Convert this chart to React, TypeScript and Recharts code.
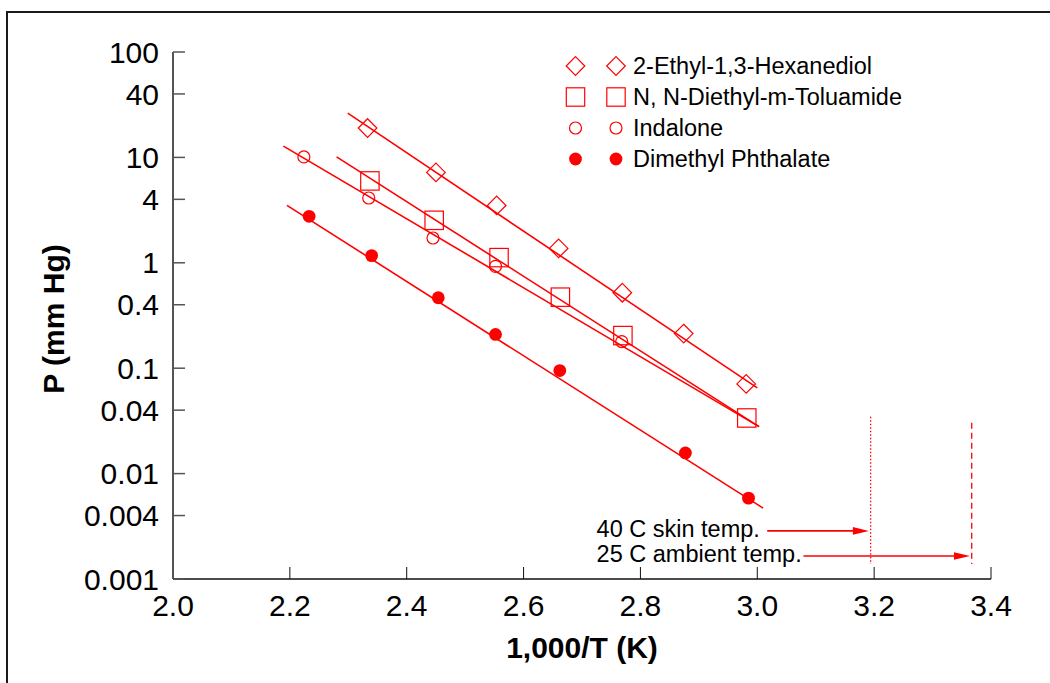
import React from "react";
import {
  ScatterChart,
  Scatter,
  XAxis,
  YAxis,
  ReferenceLine,
  ReferenceDot,
} from "recharts";

const FONT = '"Liberation Sans", Arial, Helvetica, sans-serif';
const RED = "#ff0000";

// measured points, 1000/T vs vapour pressure (mm Hg)
const hexanediolX = [2.333, 2.45, 2.554, 2.66, 2.769, 2.874, 2.981];
const hexanediolP = [19.0, 7.2, 3.5, 1.37, 0.52, 0.213, 0.071];
const deetX = [2.337, 2.447, 2.558, 2.663, 2.77, 2.982];
const deetP = [5.98, 2.53, 1.12, 0.472, 0.204, 0.0337];
const indaloneX = [2.224, 2.335, 2.445, 2.552, 2.768];
const indaloneP = [10.1, 4.12, 1.72, 0.925, 0.179];
const phthalateX = [2.233, 2.34, 2.454, 2.552, 2.662, 2.877, 2.985];
const phthalateP = [2.76, 1.17, 0.466, 0.209, 0.095, 0.0157, 0.00585];

// fitted lines, end points
const hexanediolFitX = [2.299, 3.0];
const hexanediolFitP = [26.3, 0.065];
const deetFitX = [2.28, 3.003];
const deetFitP = [10.1, 0.0279];
const indaloneFitX = [2.189, 3.003];
const indaloneFitP = [12.8, 0.0279];
const phthalateFitX = [2.195, 3.01];
const phthalateFitP = [3.51, 0.0047];

// temperature markers
const markerLabels = ["40 C skin temp.", "25 C ambient temp."];
const markerX = [3.194, 3.367];
const markerTopP = [0.0347, 0.0304];
const markerBottomP = 0.00139;
const arrowStartX = [3.017, 3.079];
const arrowP = [0.00286, 0.001655];
const labelX = 2.725;

const xTicks = [2.0, 2.2, 2.4, 2.6, 2.8, 3.0, 3.2, 3.4];
const yTicks = [0.001, 0.004, 0.01, 0.04, 0.1, 0.4, 1, 4, 10, 40, 100];

const legendNames = [
  "2-Ethyl-1,3-Hexanediol",
  "N, N-Diethyl-m-Toluamide",
  "Indalone",
  "Dimethyl Phthalate",
];

const toPoints = (xs: number[], ys: number[]) =>
  xs.map((x, i) => ({ x, y: ys[i] }));

type Kind = "diamond" | "square" | "circle" | "dot";

function Marker({ kind, cx, cy, s = 1 }: { kind: Kind; cx: number; cy: number; s?: number }) {
  if (kind === "diamond") {
    const r = 9.3 * s;
    return (
      <polygon
        points={`${cx},${cy - r} ${cx + r},${cy} ${cx},${cy + r} ${cx - r},${cy}`}
        fill="none"
        stroke={RED}
        strokeWidth={1.2}
      />
    );
  }
  if (kind === "square") {
    const h = 9.2 * s;
    return (
      <rect x={cx - h} y={cy - h} width={2 * h} height={2 * h} fill="none" stroke={RED} strokeWidth={1.2} />
    );
  }
  if (kind === "circle") {
    return <circle cx={cx} cy={cy} r={6 * s} fill="none" stroke={RED} strokeWidth={1.2} />;
  }
  return <circle cx={cx} cy={cy} r={6.4 * s} fill={RED} stroke="none" />;
}

const shapeOf = (kind: Kind) => (p: any) =>
  p.cx == null ? <g /> : <Marker kind={kind} cx={p.cx} cy={p.cy} />;

const noShape = () => <g />;

const fitLine = { stroke: RED, strokeWidth: 1.6 };

function Arrow(p: any) {
  const { x1, y1, x2 } = p;
  return (
    <g>
      <line x1={x1} y1={y1} x2={x2 - 14} y2={y1} stroke={RED} strokeWidth={1.6} />
      <polygon points={`${x2},${y1} ${x2 - 16},${y1 - 3.8} ${x2 - 16},${y1 + 3.8}`} fill={RED} />
    </g>
  );
}

const kinds: Kind[] = ["diamond", "square", "circle", "dot"];

export default function App() {
  return (
    <div style={{ position: "absolute", left: 0, top: 0, width: 1050, height: 683, background: "#fff" }}>
      <div
        style={{
          position: "absolute",
          left: 6,
          top: 11,
          width: 1044,
          height: 672,
          boxSizing: "border-box",
          borderTop: "2px solid #1a1a1a",
          borderLeft: "2px solid #1a1a1a",
        }}
      />
      <ScatterChart width={1050} height={683} margin={{ top: 52, right: 59, bottom: 46, left: 73 }}>
        <XAxis
          type="number"
          dataKey="x"
          domain={[2, 3.4]}
          ticks={xTicks}
          interval={0}
          allowDataOverflow
          height={58}
          tickSize={-12}
          tickMargin={28}
          tickFormatter={(v: number) => v.toFixed(1)}
          axisLine={{ stroke: "#111", strokeWidth: 1.5 }}
          tickLine={{ stroke: "#111", strokeWidth: 1 }}
          tick={{ fontSize: 30, fill: "#000", fontFamily: FONT }}
          label={{
            value: "1,000/T (K)",
            position: "bottom",
            offset: 0,
            fontSize: 30,
            fontWeight: "bold",
            fill: "#000",
            fontFamily: FONT,
          }}
        />
        <YAxis
          type="number"
          dataKey="y"
          scale="log"
          domain={[0.001, 100]}
          ticks={yTicks}
          interval={0}
          allowDataOverflow
          width={100}
          tickSize={-12}
          tickMargin={26}
          tickFormatter={(v: number) => String(v)}
          axisLine={{ stroke: "#555", strokeWidth: 2 }}
          tickLine={{ stroke: "#555", strokeWidth: 1.5 }}
          tick={{ fontSize: 30, fill: "#000", fontFamily: FONT }}
          label={{
            content: () => (
              <text
                x={53}
                y={319}
                transform="rotate(-90, 53, 319)"
                textAnchor="middle"
                dominantBaseline="central"
                fontSize={30}
                fontWeight="bold"
                fontFamily={FONT}
                fill="#000"
              >
                P (mm Hg)
              </text>
            ),
          }}
        />

        <Scatter data={toPoints(hexanediolFitX, hexanediolFitP)} line={fitLine} shape={noShape} isAnimationActive={false} />
        <Scatter data={toPoints(deetFitX, deetFitP)} line={fitLine} shape={noShape} isAnimationActive={false} />
        <Scatter data={toPoints(indaloneFitX, indaloneFitP)} line={fitLine} shape={noShape} isAnimationActive={false} />
        <Scatter data={toPoints(phthalateFitX, phthalateFitP)} line={fitLine} shape={noShape} isAnimationActive={false} />

        <Scatter name={legendNames[0]} data={toPoints(hexanediolX, hexanediolP)} shape={shapeOf("diamond")} isAnimationActive={false} />
        <Scatter name={legendNames[1]} data={toPoints(deetX, deetP)} shape={shapeOf("square")} isAnimationActive={false} />
        <Scatter name={legendNames[2]} data={toPoints(indaloneX, indaloneP)} shape={shapeOf("circle")} isAnimationActive={false} />
        <Scatter name={legendNames[3]} data={toPoints(phthalateX, phthalateP)} shape={shapeOf("dot")} isAnimationActive={false} />

        <ReferenceLine
          segment={[
            { x: markerX[0], y: markerTopP[0] },
            { x: markerX[0], y: markerBottomP },
          ]}
          stroke={RED}
          strokeWidth={1.3}
          strokeDasharray="1.5 2"
        />
        <ReferenceLine
          segment={[
            { x: markerX[1], y: markerTopP[1] },
            { x: markerX[1], y: markerBottomP },
          ]}
          stroke={RED}
          strokeWidth={1.3}
          strokeDasharray="6 4"
        />
        {markerLabels.map((lab, i) => (
          <ReferenceLine
            key={"a" + i}
            segment={[
              { x: arrowStartX[i], y: arrowP[i] },
              { x: markerX[i] - 0.003, y: arrowP[i] },
            ]}
            shape={Arrow}
          />
        ))}
        {markerLabels.map((lab, i) => (
          <ReferenceDot
            key={"t" + i}
            x={labelX}
            y={arrowP[i]}
            r={0}
            shape={(p: any) => (
              <text x={p.cx} y={p.cy + 6} fontSize={23.5} fontFamily={FONT} fill="#000">
                {lab}
              </text>
            )}
          />
        ))}
      </ScatterChart>

      <svg
        width={1050}
        height={683}
        style={{ position: "absolute", left: 0, top: 0, pointerEvents: "none" }}
      >
        {legendNames.map((name, i) => {
          const cy = 66 + i * 31;
          return (
            <g key={name}>
              <Marker kind={kinds[i]} cx={575.5} cy={cy} s={1} />
              <Marker kind={kinds[i]} cx={616} cy={cy} s={1} />
              <text x={633} y={cy + 8.3} fontSize={23.5} fontFamily={FONT} fill="#000">
                {name}
              </text>
            </g>
          );
        })}
      </svg>
    </div>
  );
}
